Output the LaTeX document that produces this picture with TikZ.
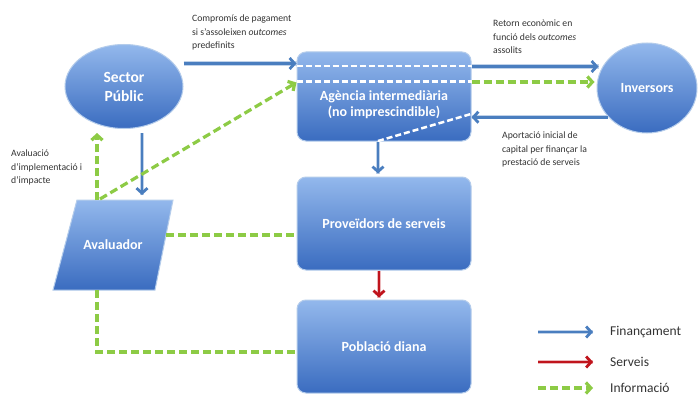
\documentclass[tikz,border=0pt]{standalone}
\usepackage{fontspec}
\setmainfont{Carlito}
\usetikzlibrary{arrows.meta,shapes.geometric,calc}
\definecolor{boxtop}{HTML}{93B8EC}
\definecolor{boxbot}{HTML}{3A6CC0}
\definecolor{boxedge}{HTML}{B4CCEB}
\definecolor{flowblue}{HTML}{4A7EBF}
\definecolor{infogreen}{HTML}{8DCB45}
\definecolor{servred}{HTML}{C0141C}
\definecolor{lbltext}{HTML}{333333}
\begin{document}
\begin{tikzpicture}[x=1pt,y=-1pt,
  shapefill/.style={top color=boxtop,bottom color=boxbot,draw=boxedge,line width=1pt},
  boxnode/.style={shapefill,rectangle,rounded corners=9pt,minimum width=174pt,minimum height=93pt,inner sep=0pt},
  boxtxt/.style={text=white,font=\fontsize{14}{16}\selectfont\bfseries,align=center,inner sep=0pt},
  ellnode/.style={shapefill,ellipse,inner sep=0pt,text=white,align=center},
  lbl/.style={text=lbltext,font=\fontsize{9.7}{13.3}\selectfont,align=left,inner sep=0pt,anchor=north west},
  legtxt/.style={text=lbltext,font=\fontsize{13.5}{16}\selectfont,inner sep=0pt,anchor=west},
  fin/.style={draw=flowblue,line width=2.8pt,preaction={draw=flowblue!35,line width=4.6pt,-},-{Straight Barb[length=5pt,width=11pt]}},
  serv/.style={draw=servred,line width=2.8pt,preaction={draw=servred!30,line width=4.6pt,-},-{Straight Barb[length=5pt,width=11pt]}},
  info/.style={draw=infogreen,line width=3.2pt,dash pattern=on 8pt off 4pt},
  infoarr/.style={info,-{Straight Barb[length=5pt,width=11pt]}},
  whitedash/.style={draw=white,line width=2.5pt,dash pattern=on 6pt off 3pt}
]
\useasboundingbox[fill=white] (0,0) rectangle (698,396);

% shapes
\node[ellnode,minimum width=118pt,minimum height=84pt,font=\fontsize{15.5}{19}\selectfont\bfseries] (sector) at (124,86.5) {Sector\\Públic};
\node[ellnode,minimum width=100pt,minimum height=90pt,font=\fontsize{14}{16}\selectfont\bfseries] (inv) at (647,88) {Inversors};
\node[boxnode,minimum height=89pt] (agencia) at (384,96.5) {};
\node[boxtxt] (agenciatxt) at (384,104.5) {Agència intermediària\\(no imprescindible)};
\node[boxnode] (prov) at (384,223.5) {};
\node[boxtxt] (provtxt) at (384,223.5) {Proveïdors de serveis};
\node[boxnode] (pobl) at (384,346.5) {};
\node[boxtxt] (pobltxt) at (384,346.5) {Població diana};

\coordinate (avTL) at (77,200);
\coordinate (avTR) at (173,200);
\coordinate (avBR) at (155,290);
\coordinate (avBL) at (53,290);
\path[shapefill] (avTL) -- (avTR) -- (avBR) -- (avBL) -- cycle;
\node[boxtxt] (aval) at (113,245) {Avaluador};

% white dashed lines inside the agency
\coordinate (wd1a) at ([yshift=-14.5pt]agencia.north west);
\coordinate (wd1b) at ([yshift=-14.5pt]agencia.north east);
\coordinate (wd2a) at ([yshift=-30pt]agencia.north west);
\coordinate (wd2b) at ([yshift=-30pt]agencia.north east);
\draw[whitedash] (wd1a) -- (wd1b);
\draw[whitedash] (wd2a) -- (wd2b);
\coordinate (wdA) at (378,141);
\coordinate (wdB) at (471,114);
\draw[whitedash] (wdA) -- (wdB);

% labels
\node[lbl] (lblComp) at (192,15) {Compromís de pagament\\si s'assoleixen \textit{outcomes}\\predefinits};
\node[lbl] (lblRet) at (493,20) {Retorn econòmic en\\funció dels \textit{outcomes}\\assolits};
\node[lbl] (lblApo) at (502,132) {Aportació inicial de\\capital per finançar la\\prestació de serveis};
\node[lbl] (lblAva) at (11,150) {Avaluació\\d'implementació i\\d'impacte};

% connector end points
\coordinate (secA) at ([yshift=23pt]sector.east);
\coordinate (agA) at (agencia.west |- secA);
\coordinate (agB) at ([yshift=-15pt]agencia.north east);
\coordinate (invA) at ([xshift=127pt]agB);
\coordinate (agC) at ([yshift=-30.5pt]agencia.north east);
\coordinate (invB) at ([xshift=123pt]agC);
\coordinate (agD) at (agencia.east |- inv.217);
\coordinate (agS) at ([xshift=-6pt]agencia.south);
\coordinate (prN) at ([xshift=-6pt,yshift=3pt]prov.north);
\coordinate (prS) at ([xshift=-5pt]prov.south);
\coordinate (poN) at ([xshift=-5pt,yshift=2pt]pobl.north);
\coordinate (secS) at ([xshift=18pt,yshift=-4pt]sector.south);
\coordinate (avT) at (142,195);
\coordinate (avG) at (97,200);
\coordinate (secG) at (97,133);
\coordinate (avG2) at (100,199);
\coordinate (agG) at ([yshift=14pt]agencia.west);
\coordinate (avR) at (166,235);
\coordinate (prW) at (prov.west |- avR);
\coordinate (avB) at (97,290);
\coordinate (poW) at ([yshift=-5.5pt]pobl.west);

% connectors
\draw[fin] (secA) -- (agA);
\draw[fin] (agB) -- (invA);
\draw[infoarr] (agC) -- (invB);
\draw[fin] (inv.217) -- (agD);
\draw[fin] (agS) -- (prN);
\draw[serv] (prS) -- (poN);
\draw[fin] (secS) -- (avT);
\draw[infoarr] (avG) -- (secG);
\draw[infoarr] (avG2) -- (agG);
\draw[info] (avR) -- (prW);
\draw[info] (avB) |- (poW);

% legend
\coordinate (lgF1) at (538,332); \coordinate (lgF2) at (593,332);
\coordinate (lgS1) at (538,362); \coordinate (lgS2) at (593,362);
\coordinate (lgI1) at (538,388); \coordinate (lgI2) at (593,388);
\draw[fin] (lgF1) -- (lgF2);
\draw[serv] (lgS1) -- (lgS2);
\draw[infoarr] (lgI1) -- (lgI2);
\node[legtxt] (lgFt) at (610,332) {Finançament};
\node[legtxt] (lgSt) at (610,362) {Serveis};
\node[legtxt] (lgIt) at (610,388) {Informació};
\end{tikzpicture}
\end{document}
